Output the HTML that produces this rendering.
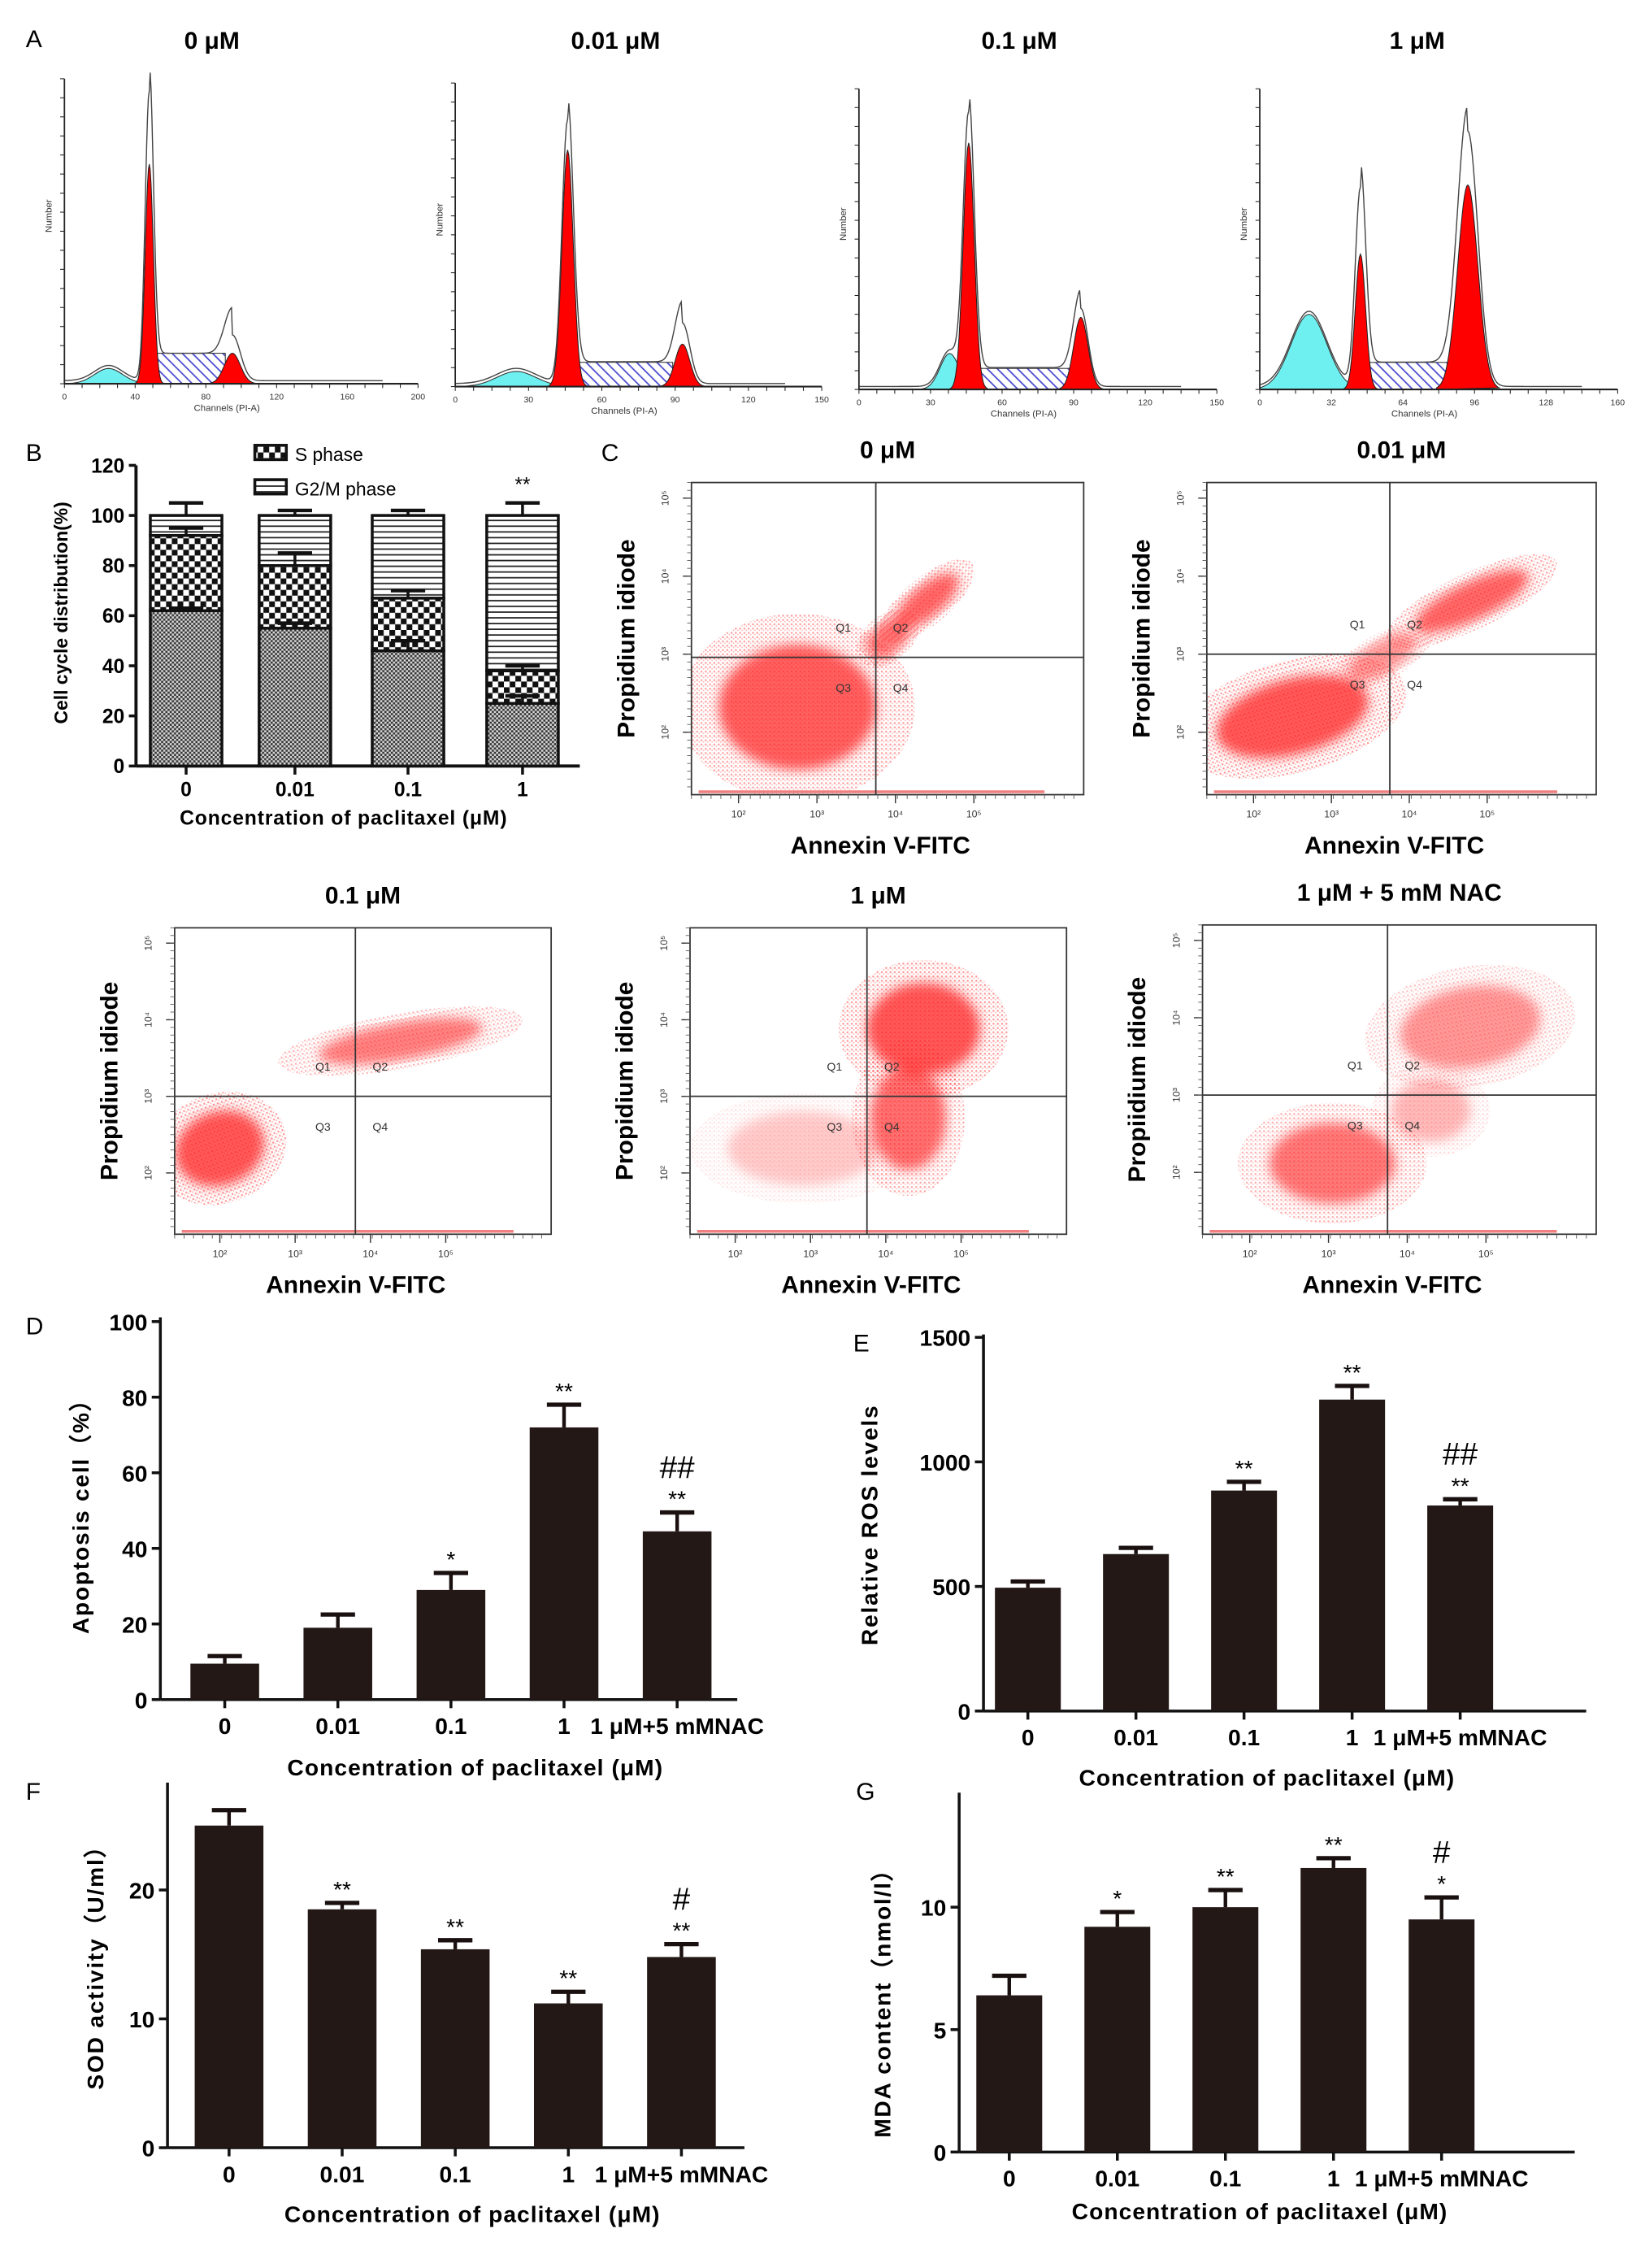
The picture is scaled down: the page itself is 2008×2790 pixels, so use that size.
<!DOCTYPE html>
<html><head><meta charset="utf-8">
<style>
html,body{margin:0;padding:0;background:#fff}
svg{display:block}
text{font-family:"Liberation Sans",Arial,sans-serif}
</style></head>
<body>
<svg id="fig" width="2008" height="2790" viewBox="0 0 1140 1584" xmlns="http://www.w3.org/2000/svg">
<defs>
  <pattern id="fineChk" width="3" height="3" patternUnits="userSpaceOnUse"><rect width="3" height="3" fill="#d8d8d8"/><rect width="1.5" height="1.5" fill="#333"/><rect x="1.5" y="1.5" width="1.5" height="1.5" fill="#333"/></pattern>
  <pattern id="bigChk" width="8" height="8" patternUnits="userSpaceOnUse"><rect width="8" height="8" fill="#fff"/><rect width="4" height="4" fill="#111"/><rect x="4" y="4" width="4" height="4" fill="#111"/></pattern>
  <pattern id="hLines" width="6" height="4" patternUnits="userSpaceOnUse"><rect width="6" height="4" fill="#fff"/><rect y="3" width="6" height="1" fill="#222"/></pattern>
  <pattern id="blueHatch" width="5" height="5" patternUnits="userSpaceOnUse" patternTransform="rotate(-45)"><rect width="5" height="5" fill="#fff"/><rect width="1" height="5" fill="#4a4ad0"/></pattern>
  <pattern id="redDots" width="3" height="3" patternUnits="userSpaceOnUse"><circle cx="1" cy="1" r="0.7" fill="#ff2020"/><circle cx="2.4" cy="2.2" r="0.5" fill="#ff4040"/></pattern>
  <filter id="blur4"><feGaussianBlur stdDeviation="4"/></filter>
</defs>
<g id="root"></g>
</svg>
<script>
const NS="http://www.w3.org/2000/svg";
const root=document.getElementById('root');
function mk(tag,attrs,parent,txt){const e=document.createElementNS(NS,tag);for(const k in attrs)e.setAttribute(k,attrs[k]);if(txt!==undefined)e.textContent=txt;(parent||root).appendChild(e);return e;}

/* ================= DATA ================= */
const histTitles=["0 μM","0.01 μM","0.1 μM","1 μM"];
const histG1=[[48,0.72,0.95],[46,0.78,0.87],[46,0.82,0.90],[45,0.45,0.66]];
const histG2=[[95,0.1,0.15],[93,0.14,0.2],[93,0.24,0.26],[93,0.68,0.85]];
const histSub=[[25,0.05],[25,0.05],[38,0.12],[22,0.25]];
const histS=[0.10,0.08,0.07,0.09];
const histMax=[200,150,150,160];

const bCats=["0","0.01","0.1","1"];
const bG1=[62,55,46,25];
const bS=[30,25,21,13];
const bG2=[8,20,33,62];
const bErrTop=[5,2,2,5];
const bErrS=[3,5,3,2];
const bErrG1=[1,2,4,3];
const bTicks=[0,20,40,60,80,100,120];

const barCats=["0","0.01","0.1","1","1 μM+5 mMNAC"];
const dVals=[9.5,19,29,72,44.5];
const dErr=[2,3.5,4.5,6,5];
const dStars=["","","*","**","**"];
const dHash=["","","","","##"];
const dTicks=[0,20,40,60,80,100];
const eVals=[495,630,885,1250,825];
const eErr=[25,25,35,55,25];
const eStars=["","","**","**","**"];
const eHash=["","","","","##"];
const eTicks=[0,500,1000,1500];
const fVals=[25,18.5,15.4,11.2,14.8];
const fErr=[1.2,0.5,0.7,0.9,1.0];
const fStars=["","**","**","**","**"];
const fHash=["","","","","#"];
const fTicks=[0,10,20];
const gVals=[6.4,9.2,10,11.6,9.5];
const gErr=[0.8,0.6,0.7,0.4,0.9];
const gStars=["","*","**","**","*"];
const gHash=["","","","","#"];
const gTicks=[0,5,10];

/* ================= PANEL A ================= */
mk('text',{x:18,y:33,'font-size':17,},root,'A');
const histBoxes=[[45,292,268,55,148],[318,574,270,58,430],[600,850,272,62,712],[880,1130,272,62,990]];
function gauss(x,m,s){return Math.exp(-0.5*((x-m)/s)**2);}
histBoxes.forEach((b,i)=>{
  const [x0,x1,y0,yt,tx]=b;
  const g=mk('g',{});
  mk('text',{x:tx,y:34,'font-size':17,'font-weight':'bold','text-anchor':'middle',},g,histTitles[i]);
  const H=y0-yt, mx=histMax[i];
  const sx=c=>x0+c/mx*(x1-x0), sy=v=>y0-v*H;
  const G1=histG1[i],G2=histG2[i],sub=histSub[i];
  let p=`M${sx(sub[0]-22)},${y0}`;for(let c=sub[0]-22;c<=sub[0]+22;c+=1)p+=` L${sx(c)},${sy(sub[1]*gauss(c,sub[0],sub[0]>30?4:8))}`;
  mk('path',{d:p+` L${sx(sub[0]+22)},${y0}Z`,fill:'#6ff0f0',stroke:'#333','stroke-width':0.6,},g);
  mk('rect',{x:sx(G1[0]+4),y:sy(histS[i]),width:sx(G2[0]-4)-sx(G1[0]+4),height:y0-sy(histS[i]),fill:'url(#blueHatch)',stroke:'#333','stroke-width':0.6,},g);
  const s1=2.3, s2=i==3?4.5:(i==0?4.5:3);
  p=`M${sx(G1[0]-10)},${y0}`;for(let c=G1[0]-10;c<=G1[0]+10;c+=0.5)p+=` L${sx(c)},${sy(G1[1]*gauss(c,G1[0],s1))}`;
  mk('path',{d:p+'Z',fill:'#ff0000',stroke:'#222','stroke-width':0.6,},g);
  p=`M${sx(G2[0]-14)},${y0}`;for(let c=G2[0]-14;c<=G2[0]+14;c+=0.5)p+=` L${sx(c)},${sy(G2[1]*gauss(c,G2[0],s2))}`;
  mk('path',{d:p+'Z',fill:'#ff0000',stroke:'#222','stroke-width':0.6,},g);
  p='';for(let c=0;c<=mx*0.9;c+=0.5){const v=G1[2]*gauss(c,G1[0],s1)+G2[2]*gauss(c,G2[0],s2)+sub[1]*gauss(c,sub[0],sub[0]>30?4:8)+(c>G1[0]&&c<G2[0]?histS[i]:0)*0.9+0.01;p+=(p?' L':'M')+sx(c)+','+sy(Math.min(v,1.02));}
  mk('path',{d:p,fill:'none',stroke:'#444','stroke-width':0.8,},g);
  mk('line',{x1:x0,y1:y0,x2:x1,y2:y0,stroke:'#222','stroke-width':1.2},g);
  mk('line',{x1:x0,y1:y0,x2:x0,y2:yt,stroke:'#222','stroke-width':1},g);
  for(let k=0;k<=20;k++){mk('line',{x1:x0+k*(x1-x0)/20,y1:y0,x2:x0+k*(x1-x0)/20,y2:y0+3,stroke:'#222','stroke-width':0.6},g);}
  for(let k=0;k<=5;k++){const c=k*mx/5;mk('text',{x:sx(c),y:y0+11,'font-size':6,'text-anchor':'middle',fill:'#333'},g,Math.round(c));}
  for(let k=0;k<=16;k++){mk('line',{x1:x0-3,y1:y0-k*H/16,x2:x0,y2:y0-k*H/16,stroke:'#222','stroke-width':0.6},g);}
  mk('text',{x:(x0+x1)/2-10,y:y0+19,'font-size':6.5,'text-anchor':'middle',fill:'#333'},g,'Channels (PI-A)');
  mk('text',{x:0,y:0,'font-size':6.5,'text-anchor':'middle',fill:'#333',transform:`translate(${x0-9},${y0-H*0.55}) rotate(-90)`},g,'Number');
});

/* ================= PANEL B ================= */
(function(){
  const g=mk('g',{});
  mk('text',{x:18,y:322,'font-size':17,},g,'B');
  const ax=95,y0=535,yTop=325,max=120;
  const sy=v=>y0-v/max*(y0-yTop);
  const cx=[130,206,285,365], w=50;
  mk('line',{x1:ax,y1:y0,x2:405,y2:y0,stroke:'#111','stroke-width':2.2,},g);
  mk('line',{x1:ax,y1:y0,x2:ax,y2:yTop,stroke:'#111','stroke-width':2.2,},g);
  bTicks.forEach(t=>{mk('line',{x1:ax-5,y1:sy(t),x2:ax,y2:sy(t),stroke:'#111','stroke-width':2},g);
    const tt=mk('text',{x:ax-8,y:sy(t)+5,'font-size':14,'font-weight':'bold','text-anchor':'end'},g,t);
    });
  bCats.forEach((c,i)=>{
    const x=cx[i]-w/2;
    const r1=mk('rect',{x,y:sy(bG1[i]),width:w,height:y0-sy(bG1[i]),fill:'url(#fineChk)',stroke:'#111','stroke-width':2},g);
    
    const s=bG1[i]+bS[i];
    const r2=mk('rect',{x,y:sy(s),width:w,height:sy(bG1[i])-sy(s),fill:'url(#bigChk)',stroke:'#111','stroke-width':2},g);
    
    const t=s+bG2[i];
    const r3=mk('rect',{x,y:sy(t),width:w,height:sy(s)-sy(t),fill:'url(#hLines)',stroke:'#111','stroke-width':2},g);
    
    [[t,bErrTop[i]],[s,bErrS[i]],[bG1[i],bErrG1[i]]].forEach(([v,e])=>{
      mk('line',{x1:cx[i],y1:sy(v),x2:cx[i],y2:sy(v+e),stroke:'#111','stroke-width':2},g);
      mk('line',{x1:cx[i]-12,y1:sy(v+e),x2:cx[i]+12,y2:sy(v+e),stroke:'#111','stroke-width':2.5},g);
    });
    mk('line',{x1:cx[i],y1:y0,x2:cx[i],y2:y0+6,stroke:'#111','stroke-width':2},g);
    const lb=mk('text',{x:cx[i],y:y0+21,'font-size':14,'font-weight':'bold','text-anchor':'middle'},g,c);
    
  });
  mk('text',{x:cx[3],y:sy(bG1[3]+bS[3]+bG2[3]+bErrTop[3])-8,'font-size':14,'text-anchor':'middle'},g,'**');
  mk('text',{x:240,y:576,'font-size':14,'font-weight':'bold','text-anchor':'middle','letter-spacing':'0.5'},g,'Concentration of paclitaxel (μM)');
  mk('text',{x:0,y:0,'font-size':13,'font-weight':'bold','text-anchor':'middle',transform:'translate(47,428) rotate(-90)',},g,'Cell cycle distribution(%)');
  mk('rect',{x:178,y:311,width:22,height:10,fill:'url(#bigChk)',stroke:'#111','stroke-width':2,},g);
  mk('text',{x:206,y:322,'font-size':13},g,'S phase');
  mk('rect',{x:178,y:335,width:22,height:10,fill:'url(#hLines)',stroke:'#111','stroke-width':2,},g);
  mk('text',{x:206,y:346,'font-size':13},g,'G2/M phase');
})();

/* ================= PANEL C ================= */
mk('text',{x:420,y:322,'font-size':17,},root,'C');
const scatterTitles=["0 μM","0.01 μM","0.1 μM","1 μM","1 μM + 5 mM NAC"];
const scatterBoxes=[[483,337,757,555],[843,337,1115,555],[122,648,385,862],[482,648,745,862],[840,646,1115,862]];
const scatterQuad=[[0.47,0.56],[0.47,0.55],[0.48,0.55],[0.47,0.55],[0.47,0.55]];
const scatterClouds=[
  [[0.27,0.72,0.2,0.2,0,0.95],[0.5,0.5,0.06,0.05,-40,0.8],[0.6,0.38,0.1,0.05,-40,0.9]],
  [[0.22,0.75,0.2,0.12,-15,1],[0.45,0.56,0.1,0.05,-30,0.6],[0.68,0.38,0.16,0.06,-25,0.9]],
  [[0.12,0.72,0.12,0.12,-20,1],[0.6,0.37,0.22,0.06,-10,0.75]],
  [[0.62,0.33,0.15,0.15,0,1.0],[0.58,0.62,0.1,0.17,0,0.85],[0.3,0.72,0.2,0.12,0,0.3]],
  [[0.33,0.77,0.16,0.13,0,0.8],[0.68,0.33,0.18,0.13,-10,0.6],[0.58,0.6,0.1,0.1,0,0.4]]
];
scatterBoxes.forEach((b,i)=>{
  const [x0,y0,x1,y1]=b,W=x1-x0,H=y1-y0;
  const g=mk('g',{});
  mk('text',{x:(x0+x1)/2,y:y0-17,'font-size':17,'font-weight':'bold','text-anchor':'middle',},g,scatterTitles[i]);
  const clip='clip'+i;
  const cp=mk('clipPath',{id:clip},g);mk('rect',{x:x0,y:y0,width:W,height:H},cp);
  const cg=mk('g',{'clip-path':`url(#${clip})`},g);
  scatterClouds[i].forEach(c=>{
    const [fx,fy,rx,ry,rot,op]=c,cx=x0+fx*W,cy=y0+fy*H;
    mk('ellipse',{cx,cy,rx:rx*W*1.5,ry:ry*H*1.5,fill:'url(#redDots)',opacity:op*0.45,transform:`rotate(${rot} ${cx} ${cy})`},cg);
    mk('ellipse',{cx,cy,rx:rx*W,ry:ry*H,fill:'#ff2020',opacity:op*0.75,filter:'url(#blur4)',transform:`rotate(${rot} ${cx} ${cy})`},cg);
  });
  mk('line',{x1:x0+5,y1:y1-2,x2:x0+W*0.9,y2:y1-2,stroke:'#f08080','stroke-width':2},g);
  mk('rect',{x:x0,y:y0,width:W,height:H,fill:'none',stroke:'#333','stroke-width':1,},g);
  const qx=x0+scatterQuad[i][0]*W,qy=y0+scatterQuad[i][1]*H;
  mk('line',{x1:qx,y1:y0,x2:qx,y2:y1,stroke:'#333','stroke-width':1,},g);
  mk('line',{x1:x0,y1:qy,x2:x1,y2:qy,stroke:'#333','stroke-width':1,},g);
  [['Q1',qx-28,qy-18],['Q2',qx+12,qy-18],['Q3',qx-28,qy+24],['Q4',qx+12,qy+24]].forEach(q=>mk('text',{x:q[1],y:q[2],'font-size':8,fill:'#333'},g,q[0]));
  for(let k=0;k<4;k++){const tx=x0+W*(0.12+k*0.2);mk('text',{x:tx,y:y1+16,'font-size':7,'text-anchor':'middle',fill:'#333'},g,'10'+['²','³','⁴','⁵'][k]);
    mk('line',{x1:tx,y1:y1,x2:tx,y2:y1+6,stroke:'#333','stroke-width':0.8},g);
    const ty=y1-H*(0.2+k*0.25);mk('text',{x:0,y:0,'font-size':7,'text-anchor':'middle',fill:'#333',transform:`translate(${x0-16},${ty}) rotate(-90)`},g,'10'+['²','³','⁴','⁵'][k]);
    mk('line',{x1:x0-6,y1:ty,x2:x0,y2:ty,stroke:'#333','stroke-width':0.8},g);}
  for(let k=0;k<40;k++){mk('line',{x1:x0+k*W/40,y1:y1,x2:x0+k*W/40,y2:y1+3,stroke:'#555','stroke-width':0.5},g);
    mk('line',{x1:x0-3,y1:y0+k*H/40,x2:x0,y2:y0+k*H/40,stroke:'#555','stroke-width':0.5},g);}
  mk('text',{x:(x0+x1)/2-5,y:y1+41,'font-size':17,'font-weight':'bold','text-anchor':'middle',},g,'Annexin V-FITC');
  mk('text',{x:0,y:0,'font-size':17,'font-weight':'bold','text-anchor':'middle',transform:`translate(${x0-40},${(y0+y1)/2}) rotate(-90)`,},g,i==4?'Propiidium idiode':'Propidium idiode');
});

/* ================= BAR PANELS D-G ================= */
function barChart(o){
  const g=mk('g',{});
  mk('text',{x:o.lx,y:o.ly,'font-size':17,},g,o.label);
  const sy=v=>o.y0-v/o.max*(o.y0-o.yTop);
  mk('line',{x1:o.ax,y1:o.y0,x2:o.xEnd,y2:o.y0,stroke:'#111','stroke-width':2,},g);
  mk('line',{x1:o.ax,y1:o.y0,x2:o.ax,y2:o.axTop,stroke:'#111','stroke-width':2,},g);
  o.ticks.forEach(t=>{mk('line',{x1:o.ax-6,y1:sy(t),x2:o.ax,y2:sy(t),stroke:'#111','stroke-width':2},g);
    const tt=mk('text',{x:o.ax-9,y:sy(t)+6,'font-size':16,'font-weight':'bold','text-anchor':'end'},g,t);
    });
  barCats.forEach((c,i)=>{
    const cx=o.x0+i*o.step,v=o.vals[i],e=o.err[i];
    mk('line',{x1:cx,y1:sy(v),x2:cx,y2:sy(v+e),stroke:'#1a1010','stroke-width':2.5},g);
    mk('line',{x1:cx-12,y1:sy(v+e),x2:cx+12,y2:sy(v+e),stroke:'#1a1010','stroke-width':3},g);
    const r=mk('rect',{x:cx-o.w/2,y:sy(v),width:o.w,height:o.y0-sy(v),fill:'#231815'},g);
    
    mk('line',{x1:cx,y1:o.y0,x2:cx,y2:o.y0+6,stroke:'#111','stroke-width':2},g);
    const lb=mk('text',{x:cx,y:o.y0+24,'font-size':16,'font-weight':'bold','text-anchor':'middle'},g,c);
    
    let ty=sy(v+e)-8;
    if(o.stars[i]){const s=mk('text',{x:cx,y:ty+4,'font-size':16,'text-anchor':'middle'},g,o.stars[i]);ty-=22;}
    if(o.hash[i]){const s=mk('text',{x:cx,y:ty+6,'font-size':22,'text-anchor':'middle'},g,o.hash[i]);}
  });
  mk('text',{x:o.xtx,y:o.xty,'font-size':16,'font-weight':'bold','text-anchor':'middle','letter-spacing':'0.6',},g,'Concentration of paclitaxel (μM)');
  mk('text',{x:0,y:0,'font-size':16,'font-weight':'bold','text-anchor':'middle','letter-spacing':'1',transform:`translate(${o.ytx},${o.yty}) rotate(-90)`,},g,o.ytitle);
}
barChart({name:'apoptosis-chart',label:'D',lx:18,ly:932,ax:112,y0:1187,yTop:923,axTop:920,max:100,xEnd:515,x0:157,step:79,w:48,vals:dVals,err:dErr,stars:dStars,hash:dHash,ticks:dTicks,xtx:332,xty:1240,ytx:62,yty:1055,ytitle:'Apoptosis cell（%）'});
barChart({name:'ros-chart',label:'E',lx:596,ly:944,ax:687,y0:1195,yTop:934,axTop:932,max:1500,xEnd:1108,x0:718,step:75.5,w:46,vals:eVals,err:eErr,stars:eStars,hash:eHash,ticks:eTicks,xtx:885,xty:1247,ytx:613,yty:1065,ytitle:'Relative ROS levels'});
barChart({name:'sod-chart',label:'F',lx:18,ly:1257,ax:117,y0:1500,yTop:1320,axTop:1245,max:20,xEnd:520,x0:160,step:79,w:48,vals:fVals,err:fErr,stars:fStars,hash:fHash,ticks:fTicks,xtx:330,xty:1552,ytx:72,yty:1370,ytitle:'SOD activity（U/ml）'});
barChart({name:'mda-chart',label:'G',lx:598,ly:1257,ax:670,y0:1503,yTop:1332,axTop:1252,max:10,xEnd:1100,x0:705,step:75.5,w:46,vals:gVals,err:gErr,stars:gStars,hash:gHash,ticks:gTicks,xtx:880,xty:1550,ytx:622,yty:1395,ytitle:'MDA content（nmol/l）'});
</script>
</body></html>
